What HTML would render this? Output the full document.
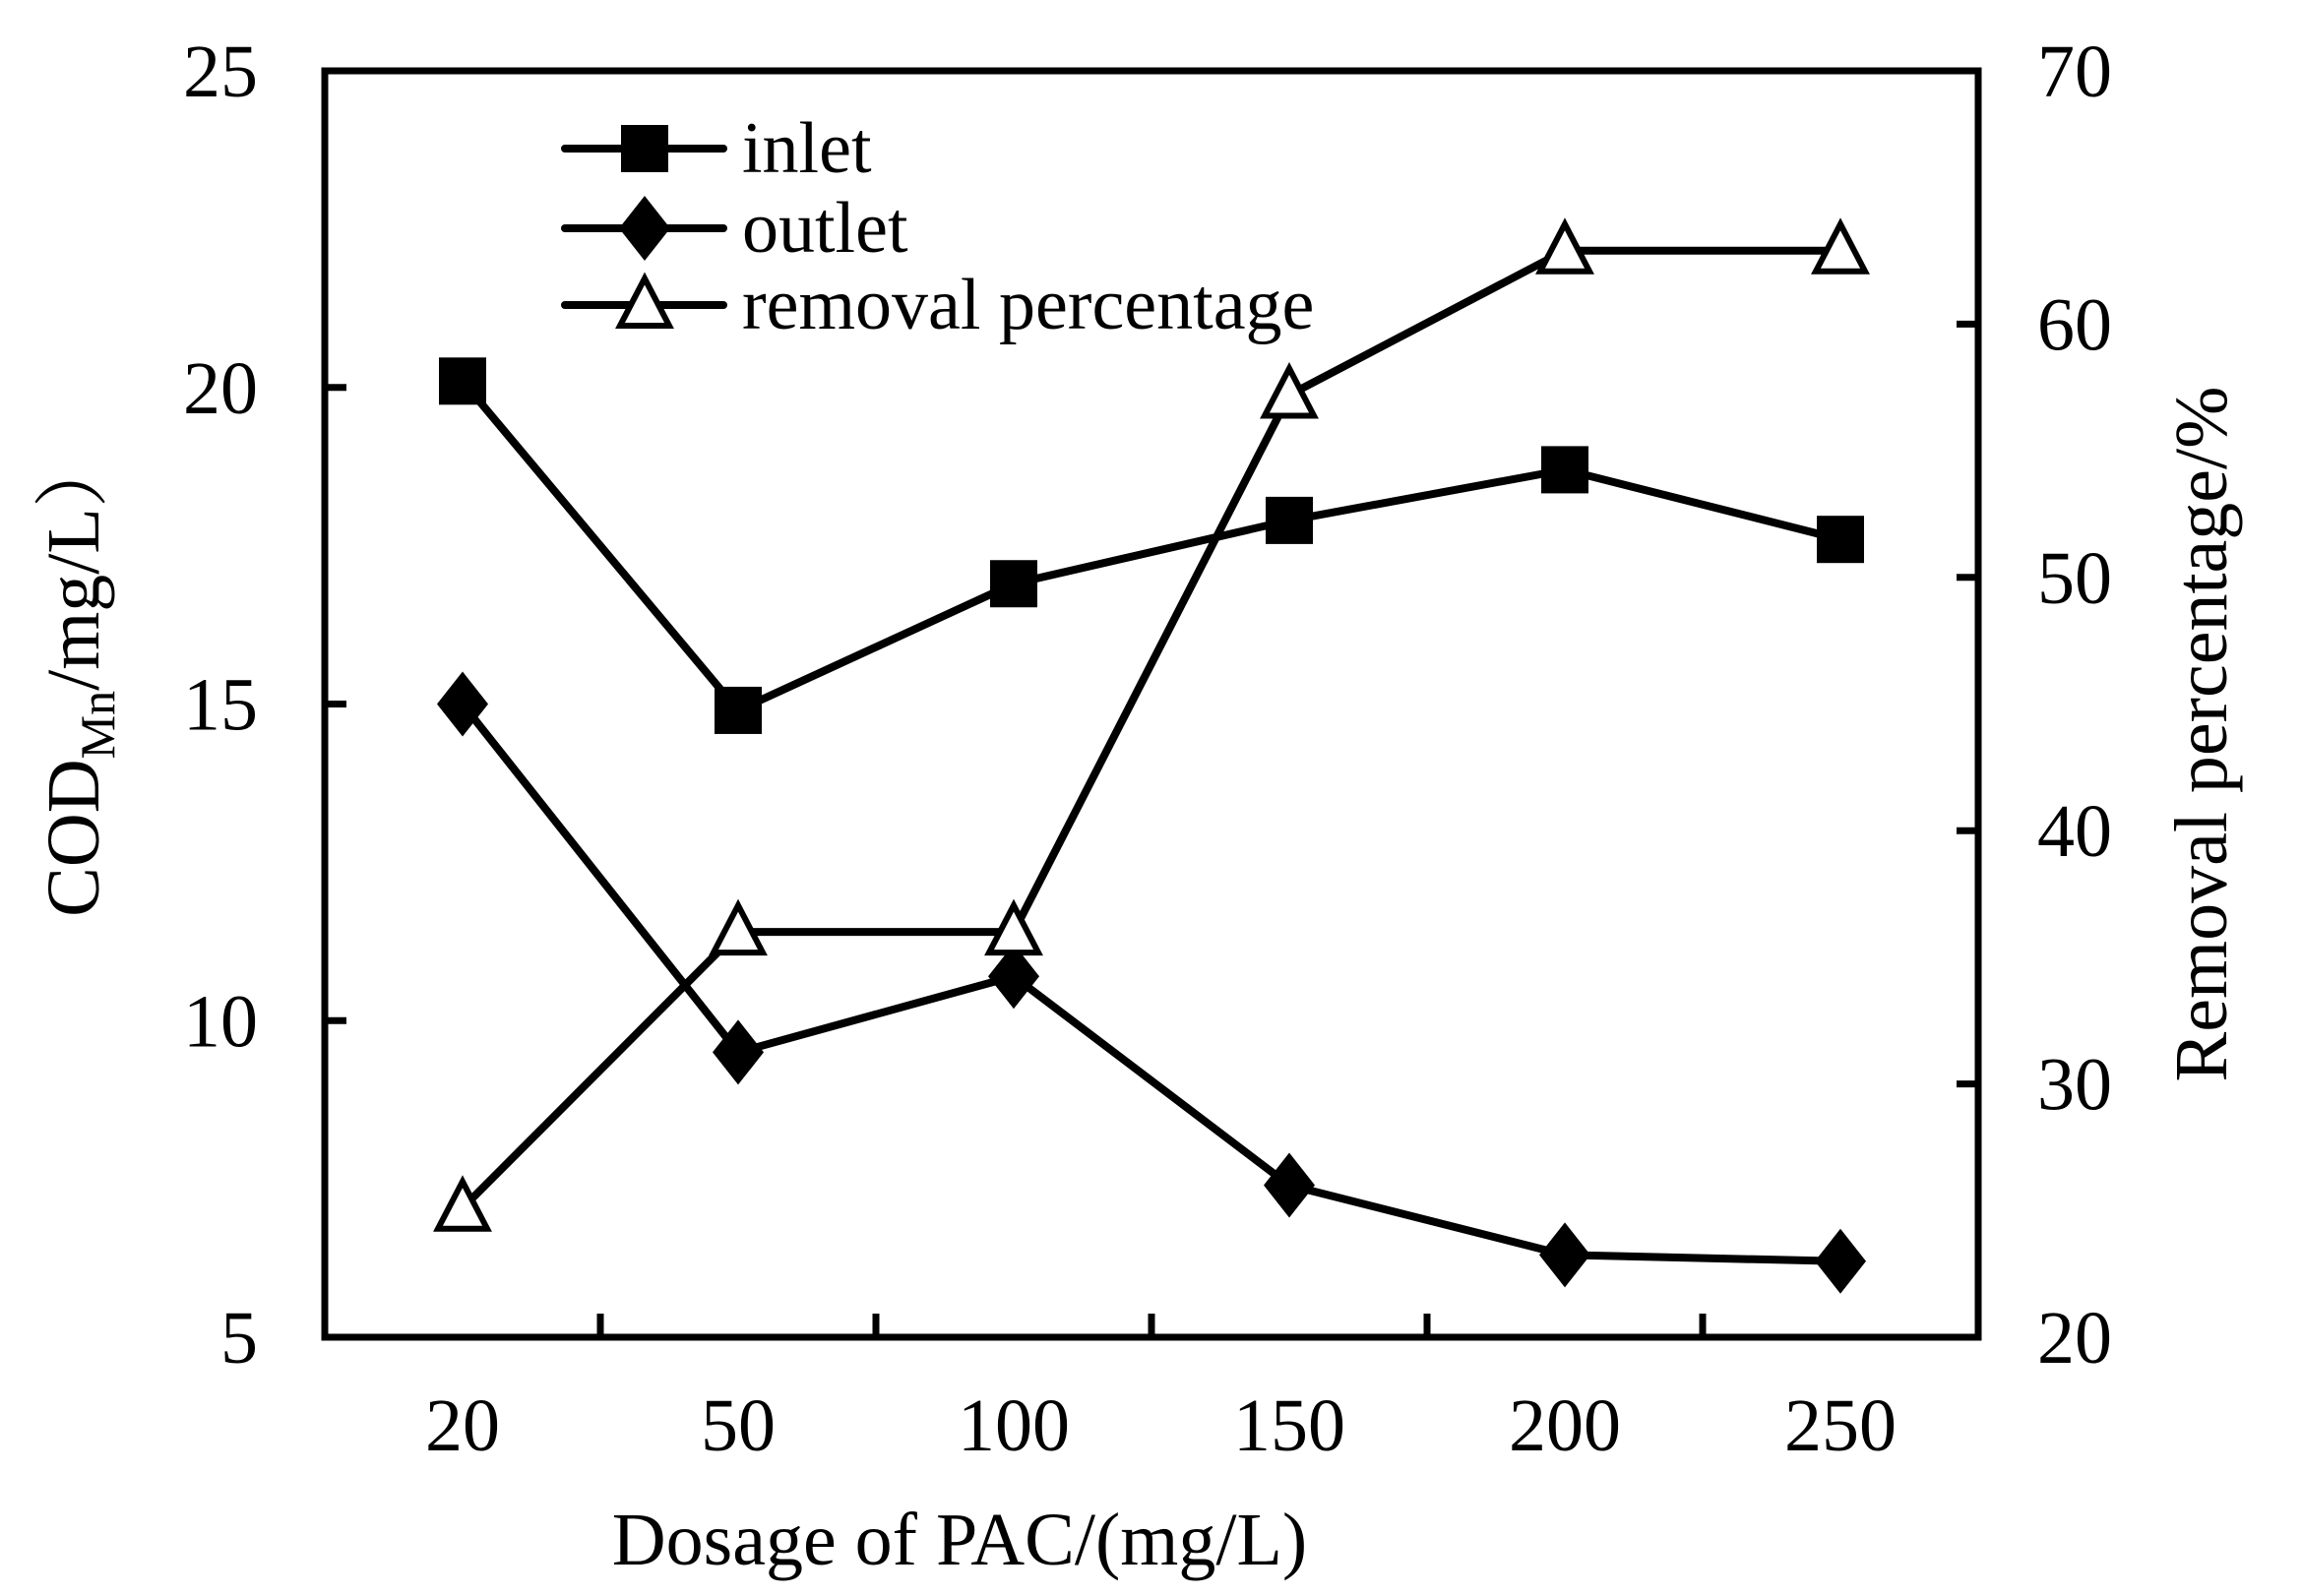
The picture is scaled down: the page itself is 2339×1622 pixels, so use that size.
<!DOCTYPE html>
<html><head><meta charset="utf-8"><style>
html,body{margin:0;padding:0;background:#fff;}
svg{display:block;font-family:"Liberation Serif",serif;}
</style></head><body>
<svg id="chart" width="2339" height="1622" viewBox="0 0 2339 1622" xmlns="http://www.w3.org/2000/svg">
<rect x="0" y="0" width="2339" height="1622" fill="#fff"/>
<g id="axes"></g>
<g id="series"></g>
<g id="legend"></g>
<text x="975" y="1590" font-size="76" text-anchor="middle">Dosage of PAC/(mg/L)</text>
<text transform="translate(100,686) rotate(-90)" font-size="76" text-anchor="middle">COD<tspan font-size="50" dy="16">Mn</tspan><tspan dy="-16">/mg/L</tspan><tspan font-family="Noto Serif CJK SC, serif">）</tspan></text>
<text transform="translate(2262,746) rotate(-90)" font-size="76" text-anchor="middle">Removal percentage/%</text>
</svg>
<script>
const categories = ["20","50","100","150","200","250"];
const inletValues = [20.1,14.9,16.9,17.9,18.7,17.6];
const outletValues = [15.0,9.5,10.7,7.4,6.3,6.2];
const removalValues = [25.1,36.0,36.0,57.2,62.9,62.9];
const leftTicks = [5,10,15,20,25];
const rightTicks = [20,30,40,50,60,70];

const NS="http://www.w3.org/2000/svg";
const L=330,R=2010,T=72,B=1359;
const yL=v=>B-(v-5)/20*(B-T);
const yR=v=>B-(v-20)/50*(B-T);
const bw=(R-L)/categories.length;
const xC=i=>L+bw*(i+0.5);
function mk(tag,attrs,parent){const e=document.createElementNS(NS,tag);for(const k in attrs)e.setAttribute(k,attrs[k]);parent.appendChild(e);return e;}
const axes=document.getElementById('axes');
let f=mk('rect',{x:L,y:T,width:R-L,height:B-T,fill:'none',stroke:'#000','stroke-width':7},axes);


leftTicks.forEach(v=>{
  let t=mk('line',{x1:L,x2:L+22,y1:yL(v),y2:yL(v),stroke:'#000','stroke-width':7},axes);
  
  
  let s=mk('text',{x:262,y:yL(v)+26,'font-size':76,'text-anchor':'end'},axes);s.textContent=v;
  
  
});
rightTicks.forEach(v=>{
  let t=mk('line',{x1:R-22,x2:R,y1:yR(v),y2:yR(v),stroke:'#000','stroke-width':7},axes);
  
  
  let s=mk('text',{x:2070,y:yR(v)+26,'font-size':76},axes);s.textContent=v;
  
  
});
categories.forEach((c,i)=>{
  if(i>0){let t=mk('line',{x1:L+bw*i,x2:L+bw*i,y1:B,y2:B-24,stroke:'#000','stroke-width':7},axes);
  
  }
  let s=mk('text',{x:xC(i),y:1474,'font-size':76,'text-anchor':'middle'},axes);s.textContent=c;
  
  
});
function marker(type,x,y,p){
  let e;
  if(type==='sq') e=mk('rect',{x:x-24,y:y-24,width:48,height:48,fill:'#000'},p);
  else if(type==='di') e=mk('polygon',{points:`${x},${y-33} ${x+26},${y} ${x},${y+33} ${x-26},${y}`,fill:'#000'},p);
  else e=mk('polygon',{points:`${x},${y-27} ${x+25},${y+21} ${x-25},${y+21}`,fill:'#fff',stroke:'#000','stroke-width':6},p);
  return e;
}
const series=document.getElementById('series');
[[inletValues,yL,'sq','inlet'],[outletValues,yL,'di','outlet'],[removalValues,yR,'tr','removal']].forEach(([vals,ys,m,nm])=>{
  const g=mk('g',{},series);
  
  
  let l=mk('polyline',{points:vals.map((v,i)=>xC(i)+','+ys(v)).join(' '),fill:'none',stroke:'#000','stroke-width':8},g);
  
  
  vals.forEach((v,i)=>{let e=marker(m,xC(i),ys(v),g);
    
    });
});
const legend=document.getElementById('legend');
[['sq','inlet',151],['di','outlet',232],['tr','removal percentage',310]].forEach(([m,label,y])=>{
  const g=mk('g',{},legend);
  
  
  mk('line',{x1:574,x2:735,y1:y,y2:y,stroke:'#000','stroke-width':8,'stroke-linecap':'round'},g);
  marker(m,655,y,g);
  let s=mk('text',{x:754,y:y+24,'font-size':74},g);s.textContent=label;
});
</script>
</body></html>
